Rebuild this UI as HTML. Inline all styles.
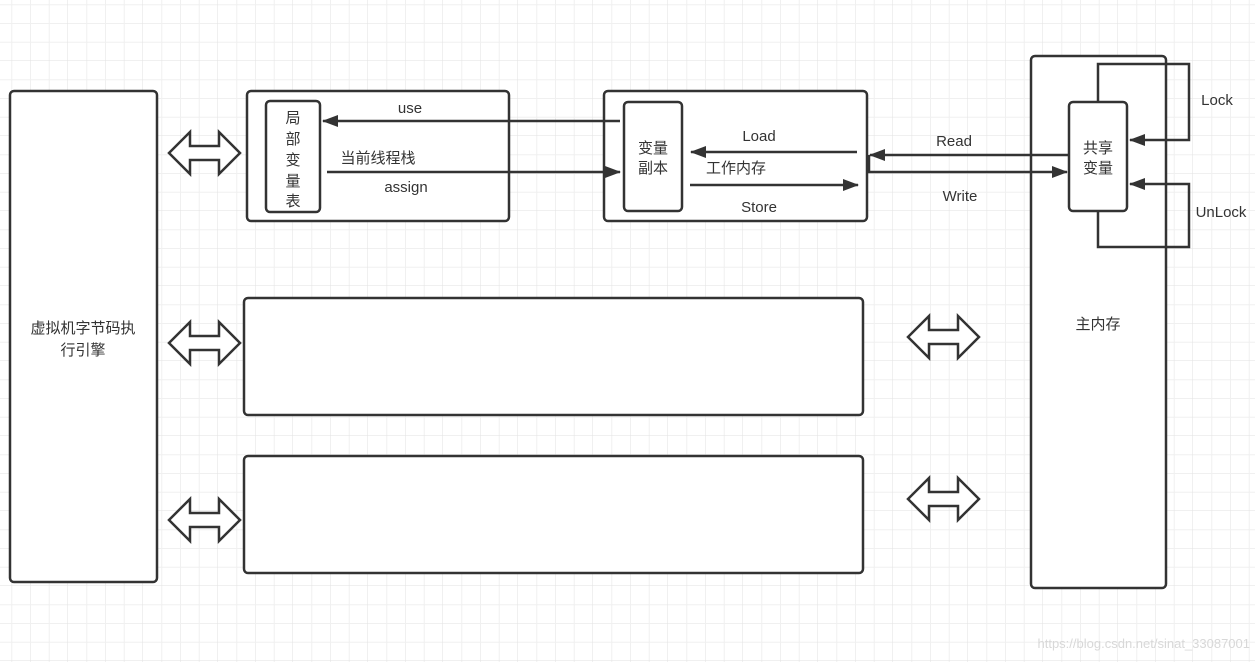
<!DOCTYPE html>
<html><head><meta charset="utf-8"><style>
html,body{margin:0;padding:0;background:#fff}
svg{display:block}
text{font-family:"Liberation Sans","Noto Sans CJK SC",sans-serif;fill:#333;font-size:15px}
</style></head><body>
<svg width="1255" height="662" viewBox="0 0 1255 662" xmlns="http://www.w3.org/2000/svg">
<defs>
<pattern id="g" x="-7" y="-14" width="75" height="75" patternUnits="userSpaceOnUse">
<path d="M18.75 0V75M37.5 0V75M56.25 0V75M0 18.75H75M0 37.5H75M0 56.25H75" stroke="#f0f0f0" stroke-width="1" fill="none"/>
<path d="M75 0V75M0 75H75" stroke="#e2e2e2" stroke-width="1" fill="none"/>
</pattern>
<marker id="a" markerWidth="10" markerHeight="8" refX="9" refY="4" orient="auto" markerUnits="userSpaceOnUse"><path d="M0,0L10,4L0,8z" fill="#333"/></marker>
<marker id="b" viewBox="0 0 16 12" markerWidth="16" markerHeight="12" refX="15" refY="6" orient="auto" markerUnits="userSpaceOnUse"><path d="M0,0L16,6L0,12z" fill="#333"/></marker>
<g id="da"><path d="M0,0L21,-21V-7H50V-21L71,0L50,21V7H21V21Z" fill="#fff" stroke="#333" stroke-width="2.5" stroke-linejoin="miter"/></g>
</defs>
<rect width="1255" height="662" fill="url(#g)"/>
<g fill="#fff" stroke="#333" stroke-width="2.5">
<rect x="10" y="91" width="147" height="491" rx="4"/>
<rect x="247" y="91" width="262" height="130" rx="4"/>
<rect x="266" y="101" width="54" height="111" rx="4"/>
<rect x="604" y="91" width="263" height="130" rx="4"/>
<rect x="624" y="102" width="58" height="109" rx="4"/>
<rect x="244" y="298" width="619" height="117" rx="4"/>
<rect x="244" y="456" width="619" height="117" rx="4"/>
<rect x="1031" y="56" width="135" height="532" rx="4"/>
</g>
<use href="#da" x="169" y="153"/>
<use href="#da" x="169" y="343"/>
<use href="#da" x="169" y="520"/>
<use href="#da" x="908" y="337"/>
<use href="#da" x="908" y="499"/>
<g fill="none" stroke="#333" stroke-width="2.5">
<path d="M1098,102V64H1189V140H1130" marker-end="url(#b)"/>
<path d="M1098,211V247H1189V184H1130" marker-end="url(#b)"/>
<path d="M1069,155H870" marker-end="url(#b)"/>
<path d="M869,155V172H1067" marker-end="url(#b)"/>
<path d="M620,121H323" marker-end="url(#b)"/>
<path d="M327,172H620" marker-end="url(#b)"/>
<path d="M857,152H691" marker-end="url(#b)"/>
<path d="M690,185H858" marker-end="url(#b)"/>
</g>
<rect x="1069" y="102" width="58" height="109" rx="4" fill="#fff" stroke="#333" stroke-width="2.5"/>
<text x="83" y="333" text-anchor="middle">虚拟机字节码执</text>
<text x="83" y="355" text-anchor="middle">行引擎</text>
<g text-anchor="middle">
<text x="293" y="123">局</text><text x="293" y="144">部</text><text x="293" y="165">变</text><text x="293" y="186">量</text><text x="293" y="206">表</text>
<text x="653" y="153">变量</text><text x="653" y="173">副本</text>
<text x="1098" y="153">共享</text><text x="1098" y="173">变量</text>
<text x="1098" y="329">主内存</text>
<text x="410" y="113">use</text>
<text x="378" y="163">当前线程栈</text>
<text x="406" y="192">assign</text>
<text x="759" y="141">Load</text>
<text x="736" y="173">工作内存</text>
<text x="759" y="212">Store</text>
<text x="954" y="146">Read</text>
<text x="960" y="201">Write</text>
<text x="1217" y="105">Lock</text>
<text x="1221" y="217">UnLock</text>
</g>
<text x="1250" y="648" text-anchor="end" style="font-size:13px;fill:#d8d8d8">https://blog.csdn.net/sinat_33087001</text>
</svg>
</body></html>
